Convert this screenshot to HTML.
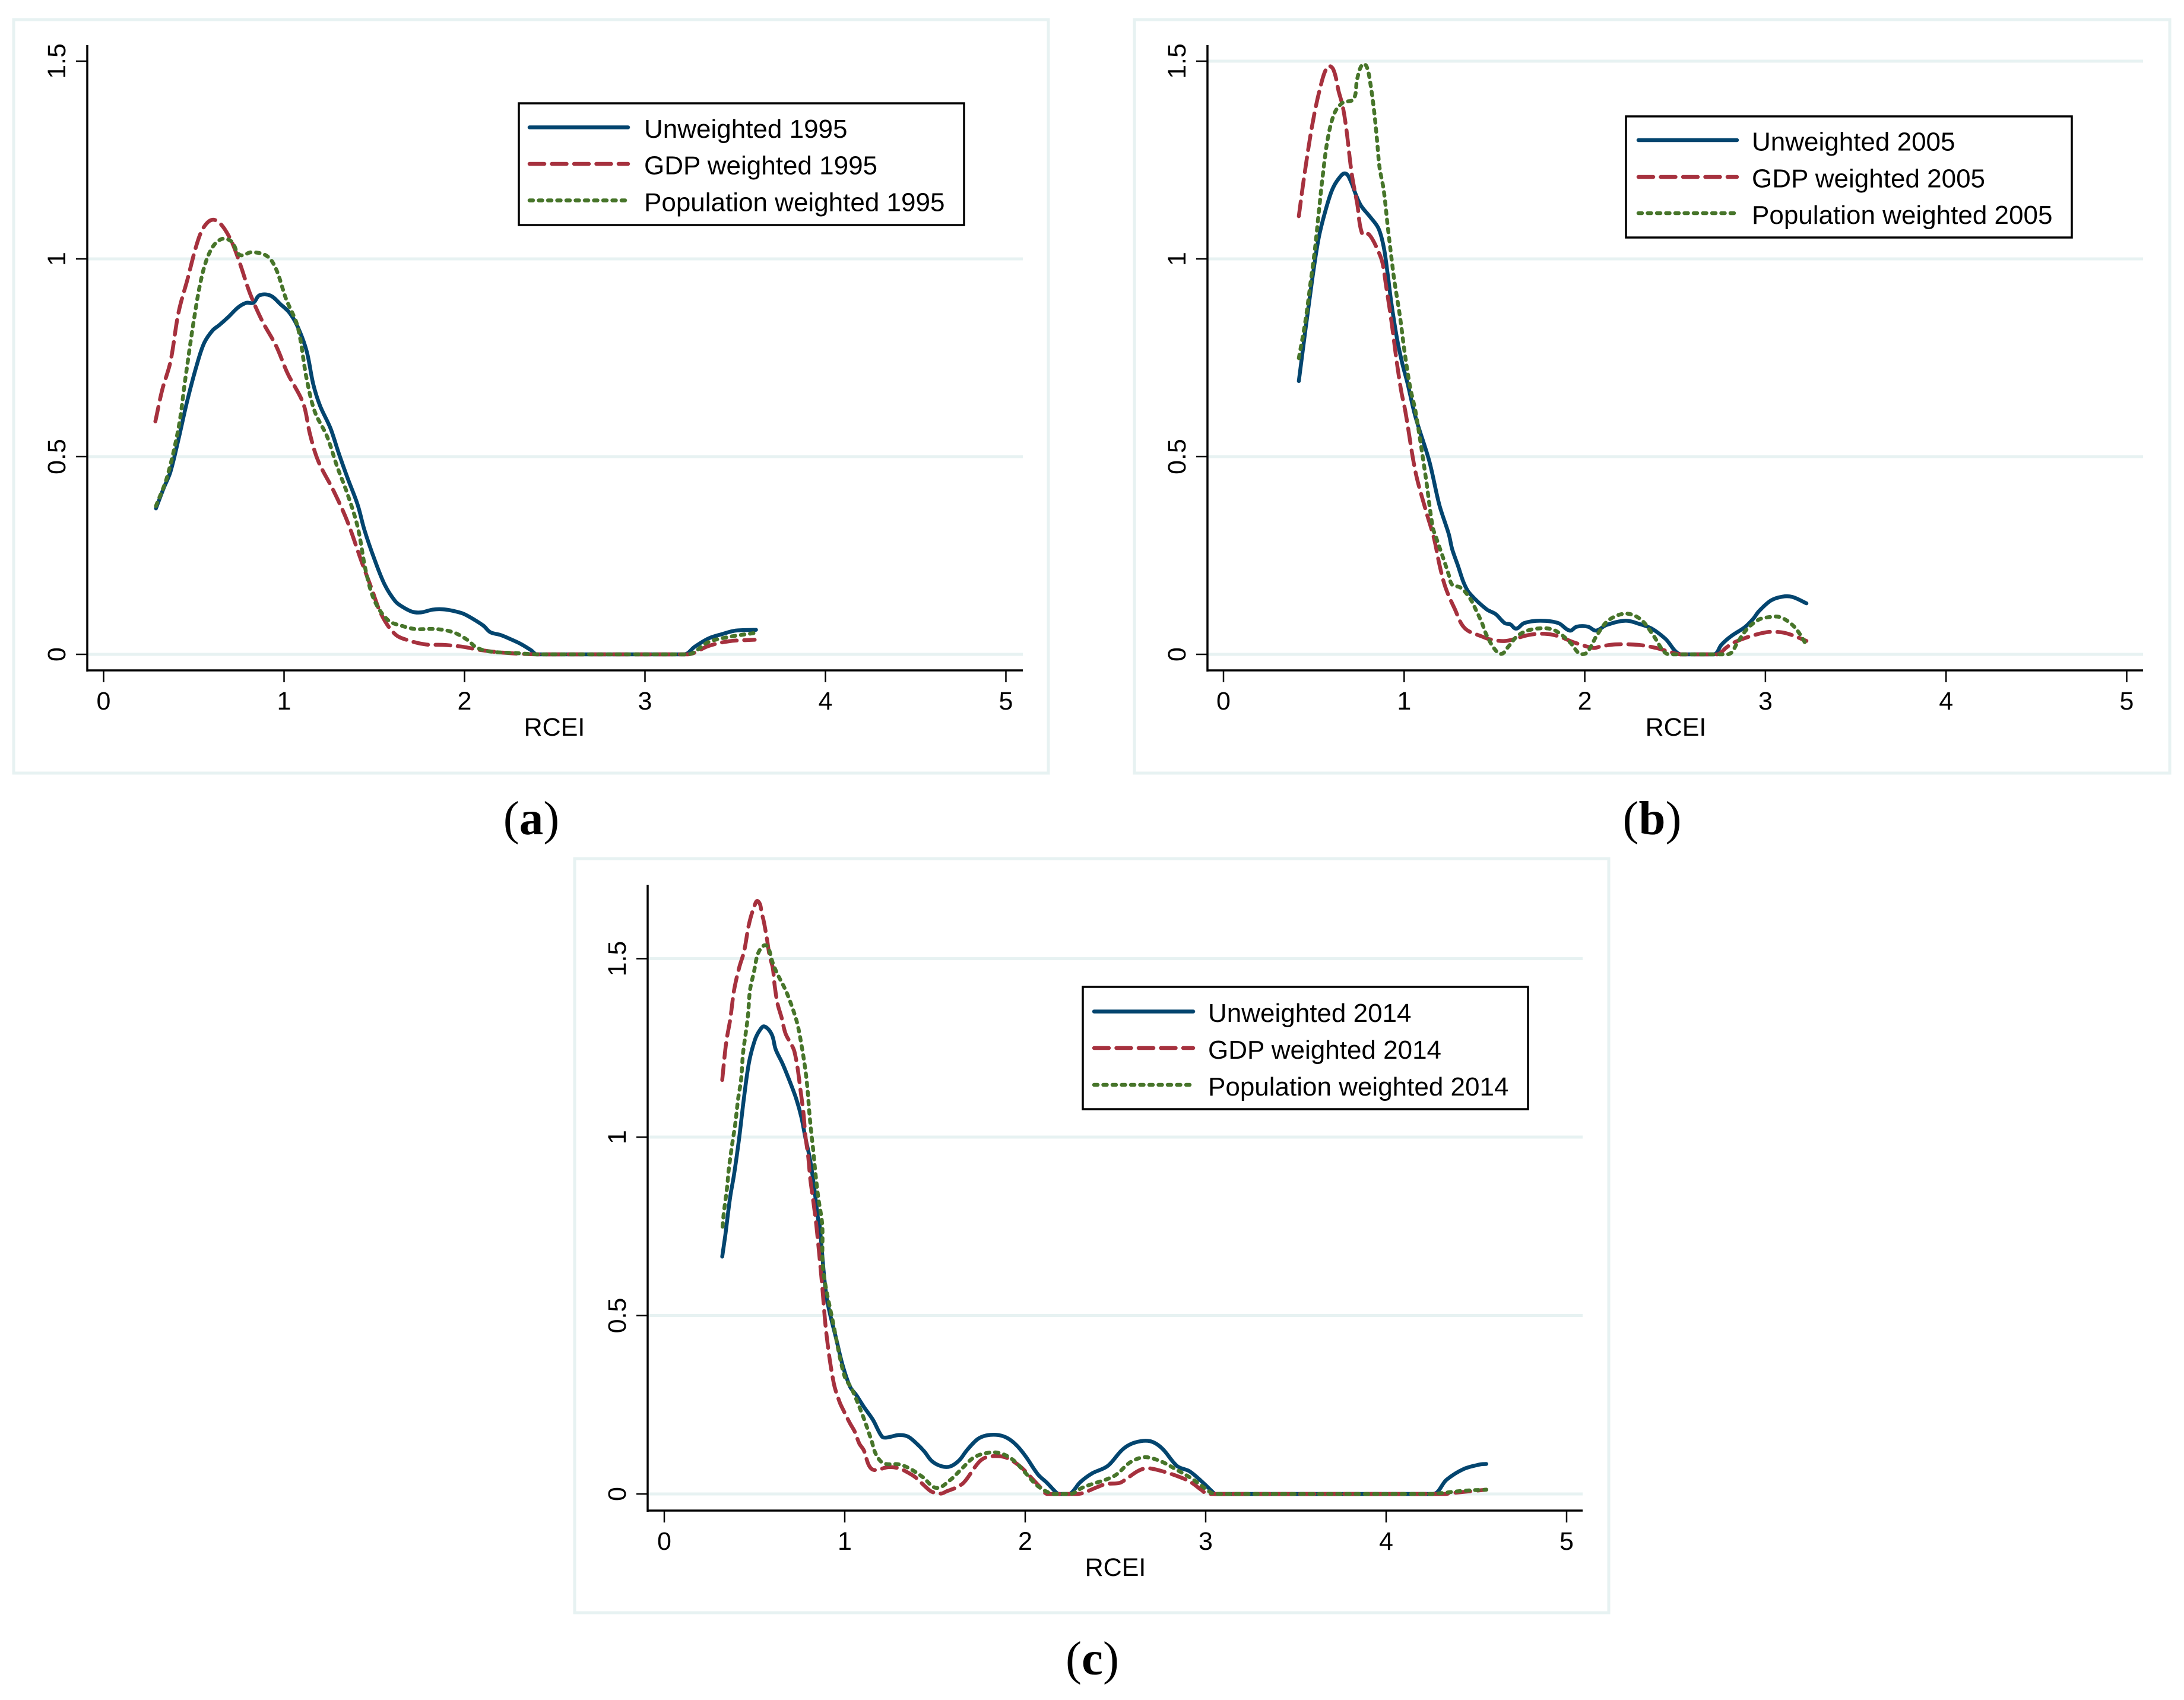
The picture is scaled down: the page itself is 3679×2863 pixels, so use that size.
<!DOCTYPE html>
<html lang="en">
<head>
<meta charset="utf-8">
<title>RCEI density plots</title>
<style>
html,body{margin:0;padding:0;background:#fff;}
svg{display:block;}
text{font-family:"Liberation Sans",Arial,sans-serif;fill:#000;}
.tick,.xt{font-size:43px;}
.leg{font-size:44px;}
.cap{font-family:"Liberation Serif",serif;font-size:81px;}
.cap tspan.b{font-weight:bold;}
.frame{fill:#fff;stroke:#e7f2f2;stroke-width:5;}
.legbox{fill:#fff;stroke:#000;stroke-width:3.5;}
.s-u{stroke:#03456f;stroke-width:6.5;fill:none;stroke-linecap:round;stroke-linejoin:round;}
.s-g{stroke:#a6313e;stroke-width:6.5;fill:none;stroke-linecap:round;stroke-linejoin:round;stroke-dasharray:25 12.5;}
.s-p{stroke:#47752a;stroke-width:6.5;fill:none;stroke-linecap:round;stroke-linejoin:round;stroke-dasharray:6 9.5;}
</style>
</head>
<body>
<svg id="fig" xmlns="http://www.w3.org/2000/svg" width="3679" height="2863" viewBox="0 0 3679 2863">
<rect width="3679" height="2863" fill="#fff"/>

<g id="panel-a">
  <rect class="frame" x="23" y="33" width="1743" height="1269"/>
  <g id="plot-a"></g>
  <text class="xt" x="934" y="1239" text-anchor="middle">RCEI</text>
  <g>
    <rect class="legbox" x="874" y="174" width="750" height="205"/>
    <line class="s-u" x1="892" x2="1058" y1="214.5" y2="214.5"/>
    <line class="s-g" x1="892" x2="1058" y1="276" y2="276"/>
    <line class="s-p" x1="892" x2="1058" y1="337.5" y2="337.5"/>
    <text class="leg" x="1085" y="232">Unweighted 1995</text>
    <text class="leg" x="1085" y="293.5">GDP weighted 1995</text>
    <text class="leg" x="1085" y="355.5">Population weighted 1995</text>
  </g>
  <text class="cap" x="895" y="1405" text-anchor="middle">(<tspan class="b">a</tspan>)</text>
</g>

<g id="panel-b">
  <rect class="frame" x="1911" y="33" width="1744" height="1269"/>
  <g id="plot-b"></g>
  <text class="xt" x="2823" y="1239" text-anchor="middle">RCEI</text>
  <g>
    <rect class="legbox" x="2739" y="196" width="751" height="204"/>
    <line class="s-u" x1="2760" x2="2926" y1="236" y2="236"/>
    <line class="s-g" x1="2760" x2="2926" y1="298" y2="298"/>
    <line class="s-p" x1="2760" x2="2926" y1="359" y2="359"/>
    <text class="leg" x="2951" y="253.5">Unweighted 2005</text>
    <text class="leg" x="2951" y="315.5">GDP weighted 2005</text>
    <text class="leg" x="2951" y="377">Population weighted 2005</text>
  </g>
  <text class="cap" x="2783" y="1405" text-anchor="middle">(<tspan class="b">b</tspan>)</text>
</g>

<g id="panel-c">
  <rect class="frame" x="968" y="1446" width="1742" height="1270"/>
  <g id="plot-c"></g>
  <text class="xt" x="1879" y="2654" text-anchor="middle">RCEI</text>
  <g>
    <rect class="legbox" x="1824" y="1662" width="750" height="206"/>
    <line class="s-u" x1="1843" x2="2010" y1="1703.5" y2="1703.5"/>
    <line class="s-g" x1="1843" x2="2010" y1="1765" y2="1765"/>
    <line class="s-p" x1="1843" x2="2010" y1="1827" y2="1827"/>
    <text class="leg" x="2035" y="1721">Unweighted 2014</text>
    <text class="leg" x="2035" y="1783">GDP weighted 2014</text>
    <text class="leg" x="2035" y="1845">Population weighted 2014</text>
  </g>
  <text class="cap" x="1840" y="2820" text-anchor="middle">(<tspan class="b">c</tspan>)</text>
</g>
</svg>

<script>
// ---- tick labels ----
const xTickValues = [0, 1, 2, 3, 4, 5];
const yTickValues = [0, 0.5, 1, 1.5];
const gridValuesA = [0, 0.5, 1];
const gridValuesB = [0, 0.5, 1, 1.5];
const gridValuesC = [0, 0.5, 1, 1.5];

// ---- panel (a) 1995 ----
const unweighted1995X = [.29,.332,.37,.415,.464,.521,.558,.604,.642,.691,.747,.792,.83,.864,.925,.981,1.03,1.075,1.125,1.162,1.2,1.257,1.302,1.351,1.408,1.445,1.502,1.558,1.615,1.653,1.709,1.758,1.823,1.879,1.936,1.992,2.049,2.106,2.143,2.2,2.257,2.313,2.37,2.4,3.219,3.275,3.351,3.426,3.502,3.615];
const unweighted1995Y = [.369,.419,.461,.544,.642,.739,.788,.819,.833,.853,.878,.889,.889,.908,.907,.885,.864,.829,.767,.683,.628,.572,.51,.447,.378,.315,.239,.176,.135,.121,.108,.106,.113,.114,.11,.103,.089,.072,.056,.049,.038,.026,.01,0,0,.019,.04,.051,.06,.062];
const gdp1995X = [.287,.325,.37,.415,.464,.521,.558,.604,.653,.709,.755,.811,.879,.955,1.019,1.106,1.143,1.189,1.275,1.351,1.426,1.483,1.54,1.615,1.691,1.785,1.879,1.992,2.087,2.219,2.408,3.238,3.351,3.464,3.608];
const gdp1995Y = [.589,.669,.739,.864,.947,1.044,1.082,1.099,1.086,1.044,.989,.913,.843,.781,.711,.635,.558,.489,.413,.336,.239,.169,.1,.051,.035,.025,.024,.019,.011,.004,0,0,.021,.033,.037];
const population1995X = [.29,.351,.415,.453,.502,.547,.596,.653,.709,.755,.823,.906,.955,1.011,1.075,1.125,1.17,1.238,1.294,1.351,1.408,1.453,1.502,1.577,1.653,1.728,1.842,1.936,2.011,2.068,2.143,2.294,2.408,3.238,3.351,3.464,3.608];
const population1995Y = [.375,.447,.572,.697,.85,.961,1.024,1.05,1.044,1.01,1.017,1.007,.975,.899,.829,.697,.614,.551,.475,.406,.322,.211,.135,.086,.072,.064,.064,.056,.038,.017,.007,.003,0,0,.031,.044,.054];

// ---- panel (b) 2005 ----
const unweighted2005X = [.417,.453,.49,.527,.564,.601,.638,.674,.704,.733,.762,.814,.858,.887,.909,.93,.96,.989,1.019,1.063,1.139,1.195,1.247,1.266,1.298,1.33,1.361,1.456,1.506,1.557,1.588,1.62,1.664,1.753,1.854,1.917,1.955,2.018,2.062,2.119,2.226,2.308,2.371,2.447,2.529,2.717,2.756,2.81,2.887,2.931,2.964,3.03,3.095,3.15,3.227];
const unweighted2005Y = [.691,.818,.944,1.053,1.121,1.174,1.203,1.216,1.197,1.162,1.134,1.105,1.077,1.03,.961,.886,.8,.737,.685,.6,.489,.378,.304,.266,.224,.181,.155,.114,.102,.079,.076,.065,.079,.085,.079,.06,.07,.07,.06,.074,.085,.076,.065,.039,0,0,.024,.046,.069,.089,.109,.136,.146,.145,.129];
const gdp2005X = [.417,.447,.49,.535,.578,.608,.638,.66,.68,.71,.74,.769,.805,.858,.88,.9,.93,.96,.983,1.007,1.063,1.12,1.165,1.197,1.229,1.279,1.336,1.437,1.475,1.563,1.689,1.778,1.854,1.936,2.049,2.087,2.169,2.295,2.396,2.472,2.529,2.734,2.783,2.822,2.898,3.008,3.084,3.139,3.227];
const gdp2005Y = [1.108,1.209,1.335,1.432,1.487,1.479,1.423,1.386,1.329,1.215,1.14,1.062,1.062,1.018,.99,.932,.841,.737,.668,.614,.461,.364,.294,.224,.169,.116,.066,.044,.038,.034,.049,.052,.046,.031,.016,.02,.025,.024,.016,.006,0,0,.017,.029,.043,.056,.056,.05,.034];
const population2005X = [.417,.453,.483,.506,.527,.549,.578,.615,.66,.72,.74,.769,.792,.814,.835,.851,.864,.887,.909,.93,.946,.976,1.004,1.034,1.063,1.12,1.158,1.178,1.216,1.247,1.266,1.311,1.361,1.399,1.431,1.456,1.5,1.538,1.576,1.626,1.689,1.778,1.841,1.917,1.973,2.011,2.068,2.131,2.226,2.308,2.378,2.434,2.466,2.789,2.816,2.838,2.898,2.964,3.019,3.073,3.117,3.161,3.194,3.221];
const population2005Y = [.749,.841,.944,1.024,1.116,1.209,1.306,1.369,1.395,1.404,1.455,1.492,1.487,1.441,1.369,1.294,1.231,1.174,1.083,1.002,.944,.857,.76,.674,.614,.447,.322,.294,.244,.201,.176,.169,.144,.111,.079,.049,.014,.001,.019,.046,.061,.066,.059,.031,.001,.004,.049,.086,.103,.089,.049,.009,0,0,.006,.024,.064,.088,.094,.095,.086,.069,.049,.028];

// ---- panel (c) 2014 ----
const unweighted2014X = [.321,.338,.365,.387,.415,.442,.469,.502,.53,.555,.596,.617,.656,.7,.732,.76,.782,.809,.831,.853,.861,.899,.955,.988,1.03,1.064,1.106,1.156,1.206,1.232,1.299,1.349,1.399,1.441,1.483,1.534,1.584,1.634,1.676,1.735,1.785,1.852,1.903,1.953,2.003,2.07,2.121,2.174,2.188,2.247,2.305,2.372,2.456,2.54,2.607,2.691,2.758,2.842,2.909,2.976,3.044,3.052,4.26,4.335,4.43,4.524,4.555];
const unweighted2014Y = [.665,.725,.832,.896,.998,1.112,1.208,1.272,1.3,1.31,1.287,1.246,1.205,1.15,1.106,1.055,.998,.934,.858,.768,.752,.553,.43,.361,.3,.277,.244,.208,.161,.158,.165,.161,.141,.119,.092,.078,.077,.094,.122,.153,.164,.165,.156,.136,.105,.055,.031,.003,0,0,.033,.058,.078,.125,.144,.148,.128,.078,.064,.036,.003,0,0,.04,.07,.083,.084];
const gdp2014X = [.321,.343,.365,.387,.415,.442,.469,.497,.519,.541,.552,.568,.584,.601,.612,.628,.65,.672,.707,.721,.738,.755,.771,.782,.798,.809,.826,.842,.872,.899,.938,.971,.997,1.03,1.055,1.081,1.106,1.134,1.164,1.24,1.299,1.357,1.391,1.45,1.483,1.534,1.567,1.609,1.651,1.676,1.743,1.785,1.852,1.903,1.97,2.037,2.087,2.121,2.289,2.322,2.398,2.448,2.523,2.565,2.624,2.674,2.75,2.859,2.918,2.977,3.01,4.33,4.354,4.555];
const gdp2014Y = [1.16,1.265,1.329,1.412,1.475,1.52,1.596,1.644,1.661,1.625,1.603,1.558,1.507,1.475,1.424,1.373,1.335,1.29,1.257,1.24,1.195,1.131,1.068,1.004,.943,.883,.819,.755,.6,.446,.313,.258,.23,.197,.175,.141,.122,.08,.067,.075,.072,.058,.047,.019,.006,.001,.008,.016,.028,.042,.089,.103,.106,.1,.078,.044,.017,0,0,.003,.019,.028,.031,.044,.064,.072,.065,.047,.033,.011,0,0,.002,.012];
const population2014X = [.323,.33,.349,.357,.376,.393,.409,.426,.436,.451,.464,.475,.497,.519,.552,.574,.601,.628,.672,.711,.738,.76,.78,.793,.804,.815,.826,.837,.853,.875,.88,.937,.997,1.039,1.081,1.114,1.148,1.173,1.215,1.299,1.357,1.433,1.508,1.584,1.651,1.718,1.802,1.869,1.936,2.003,2.07,2.154,2.255,2.314,2.372,2.456,2.507,2.574,2.624,2.674,2.758,2.842,2.926,2.993,3.052,4.25,4.298,4.43,4.555];
const population2014Y = [.749,.788,.864,.908,.979,1.036,1.106,1.163,1.233,1.29,1.342,1.412,1.463,1.514,1.537,1.533,1.488,1.456,1.412,1.361,1.316,1.259,1.195,1.138,1.068,1.01,.96,.902,.832,.755,.63,.476,.333,.294,.244,.2,.15,.111,.086,.083,.072,.047,.017,.039,.072,.103,.116,.113,.094,.058,.022,0,0,.017,.028,.042,.055,.086,.099,.103,.09,.067,.042,.017,0,0,.002,.009,.012];

const NS = 'http://www.w3.org/2000/svg';

function axisX(x0, pxPerUnit) { return function (v) { return x0 + pxPerUnit * v; }; }
function axisY(y0, pxPerUnit) { return function (v) { return y0 - pxPerUnit * v; }; }

function makeLine(x1, y1, x2, y2, stroke, width) {
  const l = document.createElementNS(NS, 'line');
  l.setAttribute('x1', x1);
  l.setAttribute('y1', y1);
  l.setAttribute('x2', x2);
  l.setAttribute('y2', y2);
  l.setAttribute('stroke', stroke);
  l.setAttribute('stroke-width', width);
  return l;
}

// Smooth path through the mapped data points; control points never drop below the zero baseline
function smoothPath(px, py, baseline) {
  const n = px.length;
  function tangent(i) {
    const a = Math.max(i - 1, 0);
    const b = Math.min(i + 1, n - 1);
    const dx = px[b] - px[a];
    const dy = py[b] - py[a];
    const len = Math.hypot(dx, dy) || 1;
    return [dx / len, dy / len];
  }
  let d = 'M' + px[0].toFixed(1) + ' ' + py[0].toFixed(1);
  for (let i = 0; i < n - 1; i++) {
    const seg = Math.hypot(px[i + 1] - px[i], py[i + 1] - py[i]) / 3;
    const t0 = tangent(i);
    const t1 = tangent(i + 1);
    const c1y = Math.min(py[i] + t0[1] * seg, baseline);
    const c2y = Math.min(py[i + 1] - t1[1] * seg, baseline);
    d += 'C' + (px[i] + t0[0] * seg).toFixed(1) + ' ' + c1y.toFixed(1) + ' ' +
         (px[i + 1] - t1[0] * seg).toFixed(1) + ' ' + c2y.toFixed(1) + ' ' +
         px[i + 1].toFixed(1) + ' ' + py[i + 1].toFixed(1);
  }
  return d;
}

function drawPanel(id, frame, grids, series) {
  const g = document.getElementById('plot-' + id);
  const sx = axisX(frame.x0, frame.xUnit);
  const sy = axisY(frame.y0, frame.yUnit);

  grids.forEach(function (v) {
    const grid = makeLine(frame.left, sy(v), frame.right, sy(v), '#e7f2f2', 5);
    
    
    g.appendChild(grid);
  });

  const yAxis = makeLine(frame.left, frame.top, frame.left, frame.bottom + 2, '#000', 3.5);
  
  
  g.appendChild(yAxis);

  const xAxis = makeLine(frame.left, frame.bottom, frame.right, frame.bottom, '#000', 3.5);
  
  
  g.appendChild(xAxis);

  xTickValues.forEach(function (v) {
    const t = makeLine(sx(v), frame.bottom, sx(v), frame.bottom + 20, '#000', 2.5);
    
    
    g.appendChild(t);
    const lab = document.createElementNS(NS, 'text');
    lab.setAttribute('class', 'tick');
    lab.setAttribute('x', sx(v));
    lab.setAttribute('y', frame.bottom + 66);
    lab.setAttribute('text-anchor', 'middle');
    
    
    lab.textContent = String(v);
    g.appendChild(lab);
  });

  yTickValues.forEach(function (v) {
    const t = makeLine(frame.left - 19, sy(v), frame.left, sy(v), '#000', 2.5);
    
    
    g.appendChild(t);
    const lab = document.createElementNS(NS, 'text');
    const lx = frame.left - 37;
    lab.setAttribute('class', 'tick');
    lab.setAttribute('text-anchor', 'middle');
    lab.setAttribute('transform', 'translate(' + lx + ',' + sy(v) + ') rotate(-90)');
    
    
    lab.textContent = String(v);
    g.appendChild(lab);
  });

  series.forEach(function (s) {
    const p = document.createElementNS(NS, 'path');
    p.setAttribute('d', smoothPath(s.x.map(sx), s.y.map(sy), sy(0)));
    p.setAttribute('class', s.cls);
    
    
    g.appendChild(p);
  });
}

drawPanel('a', { x0: 174.5, xUnit: 304, y0: 1102, yUnit: 666, left: 147, right: 1723, top: 76, bottom: 1129 }, gridValuesA, [
  { x: unweighted1995X, y: unweighted1995Y, cls: 's-u', name: 'unweighted-1995-curve' },
  { x: gdp1995X, y: gdp1995Y, cls: 's-g', name: 'gdp-weighted-1995-curve' },
  { x: population1995X, y: population1995Y, cls: 's-p', name: 'population-weighted-1995-curve' }
]);
drawPanel('b', { x0: 2061, xUnit: 304.3, y0: 1102, yUnit: 666, left: 2034, right: 3610, top: 76, bottom: 1129 }, gridValuesB, [
  { x: unweighted2005X, y: unweighted2005Y, cls: 's-u', name: 'unweighted-2005-curve' },
  { x: gdp2005X, y: gdp2005Y, cls: 's-g', name: 'gdp-weighted-2005-curve' },
  { x: population2005X, y: population2005Y, cls: 's-p', name: 'population-weighted-2005-curve' }
]);
drawPanel('c', { x0: 1119, xUnit: 304, y0: 2516, yUnit: 601, left: 1091, right: 2666, top: 1490, bottom: 2544 }, gridValuesC, [
  { x: unweighted2014X, y: unweighted2014Y, cls: 's-u', name: 'unweighted-2014-curve' },
  { x: gdp2014X, y: gdp2014Y, cls: 's-g', name: 'gdp-weighted-2014-curve' },
  { x: population2014X, y: population2014Y, cls: 's-p', name: 'population-weighted-2014-curve' }
]);
</script>
</body>
</html>
